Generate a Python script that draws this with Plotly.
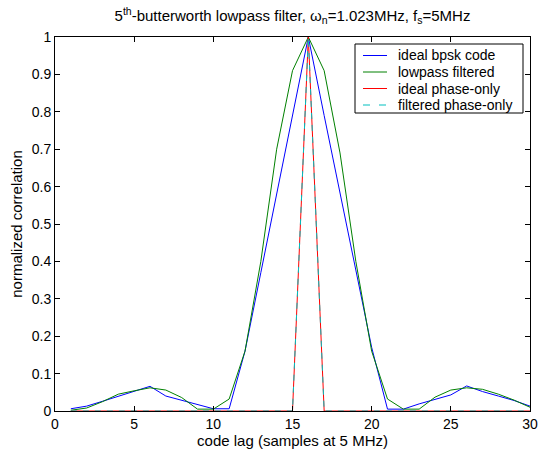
import plotly.graph_objects as go

lags = list(range(1, 31))
ideal_bpsk = [0.006, 0.013, 0.026, 0.039, 0.052, 0.066, 0.040, 0.029, 0.016, 0.006,
              0.006, 0.16, 0.37, 0.58, 0.79, 1.0, 0.79, 0.58, 0.38, 0.17,
              0.005, 0.005, 0.019, 0.031, 0.043, 0.067, 0.052, 0.040, 0.028, 0.013]
lowpass = [0.002, 0.008, 0.025, 0.045, 0.054, 0.062, 0.056, 0.036, 0.005, 0.005,
           0.032, 0.16, 0.40, 0.70, 0.91, 1.0, 0.91, 0.69, 0.40, 0.16,
           0.032, 0.005, 0.005, 0.037, 0.056, 0.062, 0.058, 0.045, 0.029, 0.010]
ideal_phase = [0]*15 + [1.0] + [0]*14
filtered_phase = [0]*15 + [1.0] + [0]*14

series_names = ["ideal bpsk code", "lowpass filtered", "ideal phase-only", "filtered phase-only"]
series_colors = ["#0000FF", "#008000", "#FF0000", "#00BFBF"]
series_dash = ["solid", "solid", "solid", "6px,6px"]
series_values = [ideal_bpsk, lowpass, ideal_phase, filtered_phase]

FONT = "Liberation Sans, Arial, Helvetica, sans-serif"

W, H = 541, 457
ML, MR, MT, MB = 55, 11, 37, 46
PW, PH = W - ML - MR, H - MT - MB

def px_x(px):
    return (px - ML) / PW

def px_y(py):
    return (H - MB - py) / PH

fig = go.Figure()
for name, col, dsh, vals in zip(series_names, series_colors, series_dash, series_values):
    fig.add_trace(go.Scatter(x=lags, y=vals, mode="lines", name=name,
                             line=dict(color=col, width=1, dash=dsh)))

axis_common = dict(showline=True, linecolor="black", linewidth=1, mirror="ticks",
                   ticks="inside", ticklen=5, tickcolor="black", showgrid=False,
                   zeroline=False, automargin=False,
                   tickfont=dict(family=FONT, size=14, color="black"))

# manual legend (box, line samples, labels)
shapes = [dict(type="rect", xref="paper", yref="paper",
               x0=px_x(355), x1=px_x(523), y0=px_y(113), y1=px_y(44),
               line=dict(color="black", width=1), fillcolor="white", layer="above")]
annotations = []
entry_y = [55.5, 72, 88.5, 105]
for name, col, dsh, ey in zip(series_names, series_colors, series_dash, entry_y):
    shapes.append(dict(type="line", xref="paper", yref="paper",
                       x0=px_x(363), x1=px_x(387), y0=px_y(ey), y1=px_y(ey),
                       line=dict(color=col, width=1, dash="7px,9px" if dsh != "solid" else "solid"),
                       layer="above"))
    annotations.append(dict(text=name, xref="paper", yref="paper",
                            x=px_x(396), y=px_y(ey), xanchor="left", yanchor="middle",
                            showarrow=False,
                            font=dict(family=FONT, size=14, color="black")))

fig.update_layout(
    width=W, height=H,
    margin=dict(l=ML, r=MR, t=MT, b=MB),
    paper_bgcolor="white", plot_bgcolor="white",
    title=dict(text="5<sup>th</sup>-butterworth lowpass filter, ω<sub>n</sub>=1.023MHz, f<sub>s</sub>=5MHz",
               x=0.5, xref="paper", xanchor="center", y=0.965, yanchor="middle",
               font=dict(family=FONT, size=15, color="black")),
    xaxis=dict(range=[0, 30], tickvals=[0, 5, 10, 15, 20, 25, 30],
               title=dict(text="code lag (samples at 5 MHz)", standoff=4,
                          font=dict(family=FONT, size=15, color="black")),
               **axis_common),
    yaxis=dict(range=[0, 1], tickvals=[0, 0.1, 0.2, 0.3, 0.4, 0.5, 0.6, 0.7, 0.8, 0.9, 1],
               ticktext=["0", "0.1", "0.2", "0.3", "0.4", "0.5", "0.6", "0.7", "0.8", "0.9", "1"],
               title=dict(text="normalized correlation", standoff=5,
                          font=dict(family=FONT, size=15, color="black")),
               **axis_common),
    showlegend=False,
    shapes=shapes,
    annotations=annotations,
)

fig.write_html("out.html")
